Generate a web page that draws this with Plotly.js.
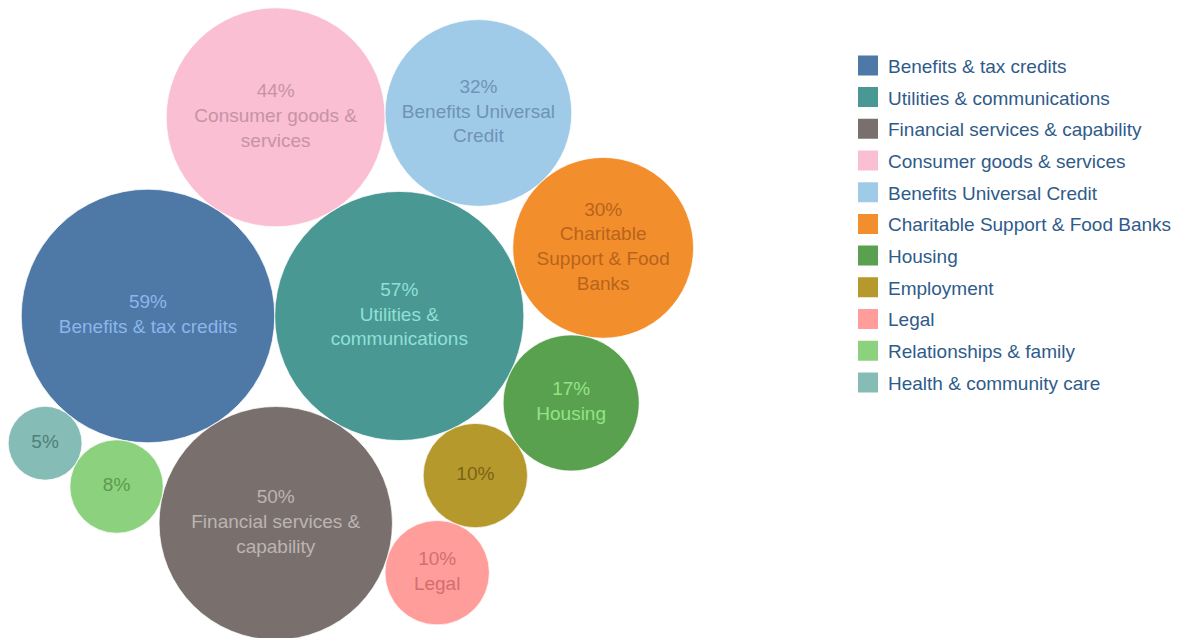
<!DOCTYPE html>
<html><head><meta charset="utf-8">
<script src="https://cdn.plot.ly/plotly-3.0.1.min.js"></script>
<style>html,body{margin:0;padding:0;background:#fff;overflow:hidden}</style>
</head><body><div id="chart" style="width:1191px;height:638px"></div>
<script>
// ---- data ----
const categories = ["Benefits & tax credits","Utilities & communications","Financial services & capability","Consumer goods & services","Benefits Universal Credit","Charitable Support & Food Banks","Housing","Employment","Legal","Relationships & family","Health & community care"];
const values = [59,57,50,44,32,30,17,10,10,8,5];
// name part of the label as it wraps inside each bubble ("" = name does not fit, percent only)
const labelNames = ["Benefits & tax credits","Utilities &<br>communications","Financial services &<br>capability","Consumer goods &<br>services","Benefits Universal<br>Credit","Charitable<br>Support & Food<br>Banks","Housing","","Legal","",""];
const colors = ["#4e79a7","#499894","#79706e","#fabfd2","#a0cbe8","#f28e2b","#59a14f","#b6992d","#ff9d9a","#8cd17d","#86bcb6"];
const labelColors = ["#8bb6ec","#8fe0d6","#bdb4b0","#c793a4","#6f93b5","#b8641c","#93e387","#7a6418","#d46e6e","#5c9a50","#4f7f7a"];
// packing topology: each bubble touches two earlier bubbles, on side +1 (left of a->b) or -1 (right)
const packing = [
  null,
  null,
  ["Benefits & tax credits","Utilities & communications",-1],
  ["Benefits & tax credits","Utilities & communications",1],
  ["Consumer goods & services","Utilities & communications",1],
  ["Benefits Universal Credit","Utilities & communications",1],
  ["Utilities & communications","Charitable Support & Food Banks",-1],
  ["Utilities & communications","Housing",-1],
  ["Financial services & capability","Employment",-1],
  ["Benefits & tax credits","Financial services & capability",-1],
  ["Benefits & tax credits","Relationships & family",-1]
];

// ---- layout of the packed bubbles (area proportional to value) ----
const k = 16.5; // px of radius per sqrt(value)
const rad = values.map(v => k*Math.sqrt(v));
const px = [], py = [];
px[0] = 0; py[0] = 0;
px[1] = rad[0] + rad[1]; py[1] = 0;
for (let i = 2; i < values.length; i++) {
  const a = categories.indexOf(packing[i][0]);
  const b = categories.indexOf(packing[i][1]);
  const side = packing[i][2];
  const dx = px[b]-px[a], dy = py[b]-py[a];
  const d = Math.hypot(dx, dy);
  const da = rad[a]+rad[i], db = rad[b]+rad[i];
  const t = (d*d + da*da - db*db)/(2*d);
  const h = Math.sqrt(Math.max(0, da*da - t*t));
  const ux = dx/d, uy = dy/d;
  px[i] = px[a] + t*ux + side*h*(-uy);
  py[i] = py[a] + t*uy + side*h*(ux);
}
const texts = values.map((v,i) => labelNames[i] ? v + "%<br>" + labelNames[i] : v + "%");

const traces = [{
  type: "scatter", mode: "markers+text",
  x: px, y: py, text: texts,
  textposition: "middle center",
  textfont: {family: "Arial, 'Liberation Sans', sans-serif", size: 19, color: labelColors},
  marker: {size: values, sizemode: "area", sizeref: 1/(2*k*k), color: colors,
           opacity: 1, line: {color: "rgba(255,255,255,0.7)", width: 1}},
  showlegend: false, hoverinfo: "skip", cliponaxis: false
}];
categories.forEach((c,i) => {
  traces.push({
    type: "scatter", mode: "markers", x: [null], y: [null], name: c,
    legendgroup: "g"+i,
    marker: {symbol: "square", size: 16, color: colors[i], line: {color: colors[i], width: 4}},
    hoverinfo: "skip"
  });
});

const layout = {
  width: 1191, height: 638,
  margin: {l: 0, r: 0, t: 0, b: 0},
  paper_bgcolor: "#ffffff", plot_bgcolor: "#ffffff",
  xaxis: {range: [-148, 1043], visible: false, fixedrange: true},
  yaxis: {range: [-322, 316], visible: false, fixedrange: true},
  showlegend: true,
  legend: {x: 848/1191, xanchor: "left", y: 0.927, yanchor: "top",
           font: {family: "Arial, 'Liberation Sans', sans-serif", size: 19, color: "#2f5b8a"},
           tracegroupgap: 4, bgcolor: "rgba(0,0,0,0)", itemclick: false, itemdoubleclick: false},
  hovermode: false
};
Plotly.newPlot("chart", traces, layout, {displayModeBar: false, staticPlot: true});
</script>
</body></html>
